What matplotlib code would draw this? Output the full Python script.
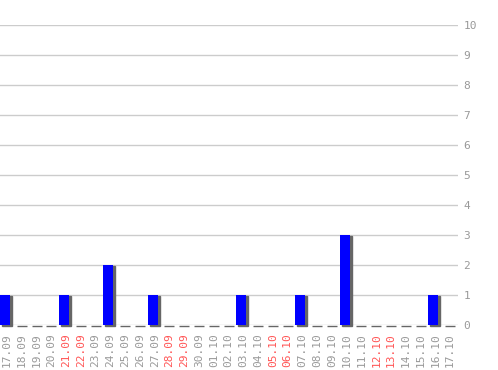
import matplotlib
matplotlib.use("Agg")
import matplotlib.pyplot as plt

# daily counts, 17.09 .. 17.10
DAYS = [
    "17.09", "18.09", "19.09", "20.09", "21.09", "22.09", "23.09", "24.09",
    "25.09", "26.09", "27.09", "28.09", "29.09", "30.09", "01.10", "02.10",
    "03.10", "04.10", "05.10", "06.10", "07.10", "08.10", "09.10", "10.10",
    "11.10", "12.10", "13.10", "14.10", "15.10", "16.10", "17.10",
]
COUNTS = [1, 0, 0, 0, 1, 0, 0, 2, 0, 0, 1, 0, 0, 0, 0, 0,
          1, 0, 0, 0, 1, 0, 0, 3, 0, 0, 0, 0, 0, 1, 0]
WEEKEND = ["21.09", "22.09", "28.09", "29.09", "05.10", "06.10", "12.10", "13.10"]
Y_TICKS = list(range(0, 11))

W, H = 498, 370
fig = plt.figure(figsize=(W / 100, H / 100), dpi=100)

# axes box in pixels: x 0..458, y 25..325
ax = fig.add_axes([0 / W, (H - 325) / H, 458 / W, 300 / H])

step = 14.77              # px per day
ax.set_xlim(0, 458 / step)
ax.set_ylim(0, 10)

bar_w = 10 / step
dx = 2 / step
dy = 1 / 30

x = list(range(len(DAYS)))

# grid
for t in Y_TICKS:
    ax.axhline(t, color="#cccccc", linewidth=1, zorder=0)

# shadow then bars
ax.bar([i + dx for i in x], COUNTS, width=bar_w, bottom=-dy,
       color="#666666", edgecolor="#666666", linewidth=1, align="edge",
       zorder=2, clip_on=False)
ax.bar(x, COUNTS, width=bar_w, color="#0000ff", align="edge",
       linewidth=0, zorder=3)

for s in ax.spines.values():
    s.set_visible(False)

ax.yaxis.tick_right()
ax.set_yticks(Y_TICKS)
ax.tick_params(axis="y", length=0, pad=4, labelsize=8, labelcolor="#999999")
for lab in ax.get_yticklabels():
    lab.set_family("DejaVu Sans Mono")

ax.set_xticks([i + 7 / step for i in x])
ax.set_xticklabels(DAYS, rotation=90, family="DejaVu Sans Mono", fontsize=8)
ax.tick_params(axis="x", length=0, pad=6)
for lab in ax.get_xticklabels():
    if lab.get_text() in WEEKEND:
        lab.set_color("#ff5555")
    else:
        lab.set_color("#999999")

fig.savefig("out.png", dpi=100)
